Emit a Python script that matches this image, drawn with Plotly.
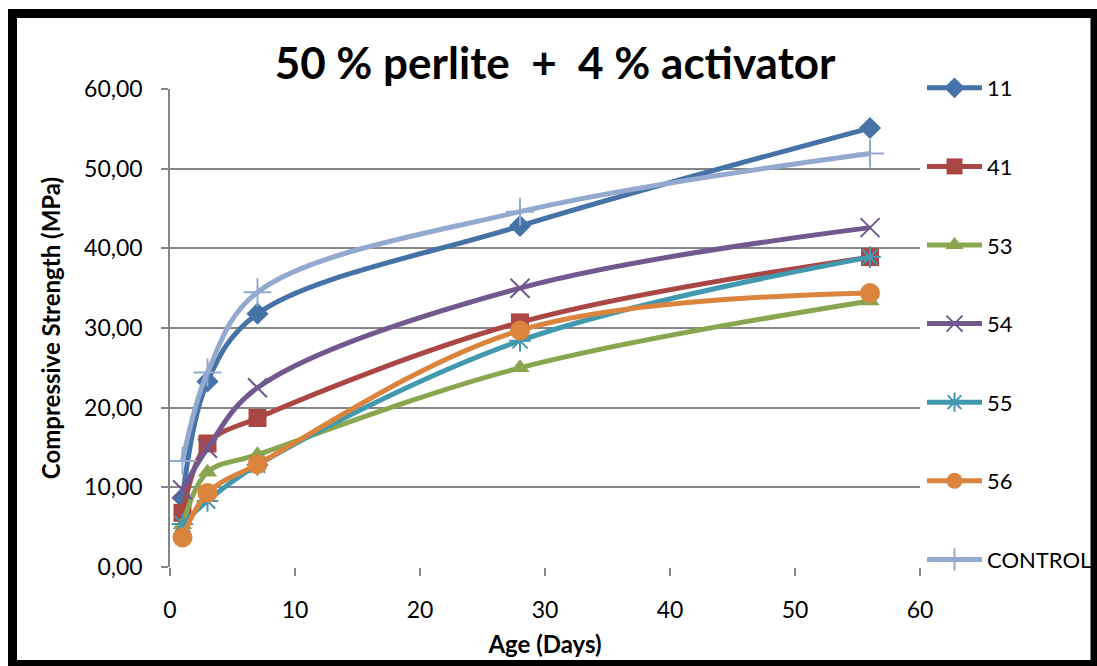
import plotly.graph_objects as go

# Curing ages (days)
age_days = [1, 3, 7, 28, 56]

# Compressive strength (MPa) for each mix
series_names = ["11", "41", "53", "54", "55", "56", "CONTROL"]
s11 = [8.7, 23.3, 31.8, 42.8, 55.1]
s41 = [6.8, 15.5, 18.7, 30.7, 38.9]
s53 = [5.3, 11.9, 14.1, 25.0, 33.4]
s54 = [9.7, 14.9, 22.5, 35.0, 42.6]
s55 = [5.4, 8.3, 12.8, 28.4, 38.9]
s56 = [3.7, 9.3, 12.9, 29.7, 34.4]
control = [13.3, 24.4, 34.5, 44.6, 51.9]

y_ticks = [0, 10, 20, 30, 40, 50, 60]
x_ticks = [0, 10, 20, 30, 40, 50, 60]

values = [s11, s41, s53, s54, s55, s56, control]
colors = ["#4573A7", "#AA4643", "#89A54E", "#71588F", "#4198AF", "#DB843D", "#93A9CF"]
symbols = ["diamond", "square", "triangle-up", "x-thin", "asterisk-open", "circle", "cross-thin"]
msizes = [17, 18, 17, 19, 18, 20, 20]

FONT = "Lato"
FW, FH = 1097, 666

fig = go.Figure()
for i, (name, vals) in enumerate(zip(series_names, values)):
    thin = symbols[i].endswith("thin") or symbols[i].startswith("asterisk")
    fig.add_trace(go.Scatter(
        x=age_days, y=vals, name=name, mode="lines+markers",
        legendgroup=name,
        line=dict(color=colors[i], width=5, shape="spline", smoothing=1),
        marker=dict(symbol=symbols[i], size=msizes[i], color=colors[i],
                    line=dict(color=colors[i], width=2 if thin else 0)),
    ))

# plot-area placement in pixels, converted to paper fractions
L, R, T, B = 170, 920, 89, 567
def fx(x):
    return x / FW
def fy(y):
    return 1 - y / FH

# chart-area frame
fig.add_shape(type="rect", xref="paper", yref="paper",
              x0=fx(12.5), x1=fx(1095), y0=fy(664.5), y1=fy(13.5),
              line=dict(color="black", width=9), layer="above")

fig.update_layout(
    width=FW, height=FH,
    margin=dict(l=0, r=0, t=0, b=0, autoexpand=False),
    paper_bgcolor="white", plot_bgcolor="white",
    separators=",.",
    font=dict(family=FONT, color="black", size=23),
    title=dict(text="<b>50 % perlite  +  4 % activator</b>", x=0.506, xanchor="center",
               y=fy(64), yanchor="middle", font=dict(size=44, family=FONT)),
    xaxis=dict(domain=[fx(L), fx(R)], range=[0, 60], tickvals=x_ticks,
               showgrid=False, zeroline=False,
               showline=False, ticks="outside", ticklen=8, tickcolor="#868686",
               tickwidth=1.5, tickfont=dict(size=23), ticklabelstandoff=14,
               title=dict(text="<b>Age (Days)</b>", font=dict(size=24), standoff=14)),
    yaxis=dict(domain=[fy(B), fy(T)], range=[0, 60], tickvals=y_ticks, tickformat=".2f",
               showgrid=True, gridcolor="#868686", gridwidth=1.5, zeroline=False,
               showline=True, linecolor="#868686", linewidth=1.5,
               ticks="outside", ticklen=7, tickcolor="#868686", tickwidth=1.5,
               tickfont=dict(size=23), ticklabelstandoff=14,
               title=dict(text="<b>Compressive Strength (MPa)</b>", font=dict(size=24), standoff=17)),
    legend=dict(x=fx(922), xanchor="left", y=fy(67), yanchor="top",
                tracegroupgap=47, itemwidth=55, font=dict(size=22),
                bgcolor="rgba(0,0,0,0)"),
)

fig.write_html("out.html")
